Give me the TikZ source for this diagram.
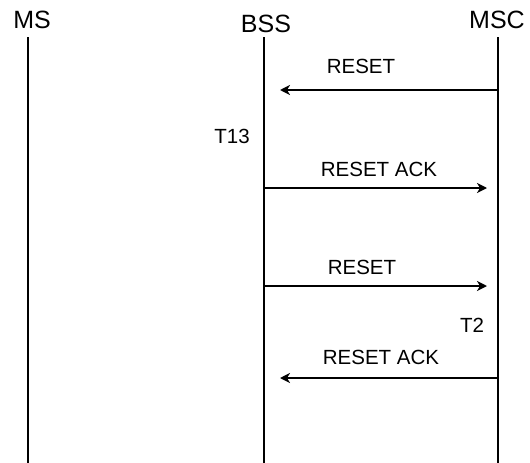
\documentclass[tikz,border=0pt]{standalone}
\usepackage{fontspec}
\setmainfont{Liberation Sans}
\usetikzlibrary{arrows.meta}

\begin{document}
\begin{tikzpicture}[x=1pt, y=-1pt,
		head/.style={anchor=base, inner sep=0pt, font=\fontsize{25}{28}\selectfont},
		msglbl/.style={anchor=base, inner sep=0pt, font=\fontsize{20.5}{24}\selectfont},
		msg/.style={-{Stealth[length=10pt, width=10pt, inset=3pt]}, line width=2pt}]
	\useasboundingbox (0,0) rectangle (530,463);
	% entities
	\node[head] (ms) at (32,28) {MS};
	\node[head] (bss) at (266,32) {BSS};
	\node[head] (msc) at (497,28) {MSC};
	\foreach \name/\x in {ms/28, bss/264, msc/498}
		\draw[line width=2pt] (\x,37) coordinate (\name top) -- (\x,463) coordinate (\name bot);
	
	% messages
	\coordinate (m1a) at (498,90);  \coordinate (m1b) at (280,90);
	\coordinate (m2a) at (264,188); \coordinate (m2b) at (487,188);
	\coordinate (m3a) at (264,286); \coordinate (m3b) at (487,286);
	\coordinate (m4a) at (498,378); \coordinate (m4b) at (280,378);
	\draw[msg] (m1a) -- (m1b);
	\draw[msg] (m2a) -- (m2b);
	\draw[msg] (m3a) -- (m3b);
	\draw[msg] (m4a) -- (m4b);
	\node[msglbl] (reset1) at (361,73) {RESET};
	\node[msglbl] (ack1) at (379,176) {RESET ACK};
	\node[msglbl] (reset2) at (362,274) {RESET};
	\node[msglbl] (ack2) at (381,364) {RESET ACK};
	
	% timers
	\node[msglbl] (t13) at (232,143) {T13};
	\node[msglbl] (t2) at (472,332) {T2};
\end{tikzpicture}
\end{document}
